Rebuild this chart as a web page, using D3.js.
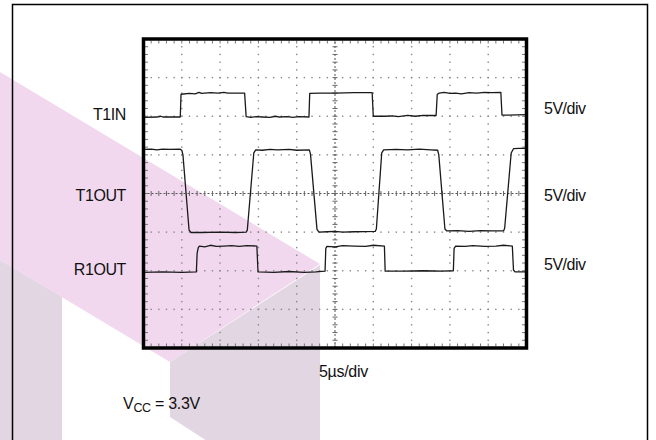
<!DOCTYPE html>
<html>
<head>
<meta charset="utf-8">
<script src="https://cdn.jsdelivr.net/npm/d3@7"></script>
<style>
  body { margin: 0; background: #fff; }
  text { font-family: "Liberation Sans", Arial, sans-serif; fill: #111; }
</style>
</head>
<body>
<div id="chart"></div>
<script>
// traces, [time in div, level in div from screen centre]
const t1in = [
  [0.00, 1.97], [0.35, 1.98], [0.45, 2.00], [0.52, 1.98], [0.96, 1.98],
  [0.98, 2.57], [1.20, 2.59], [1.35, 2.58], [1.45, 2.62], [1.52, 2.59], [1.75, 2.61], [1.95, 2.60], [2.10, 2.62], [2.20, 2.60], [2.64, 2.60],
  [2.68, 1.99], [2.80, 1.97], [2.95, 1.99], [3.10, 1.98], [3.30, 1.97], [3.45, 2.00], [3.55, 1.98], [3.75, 1.99], [3.90, 1.97], [4.05, 1.99], [4.32, 1.98],
  [4.34, 2.59], [4.60, 2.60], [5.00, 2.60], [5.50, 2.61], [5.97, 2.61],
  [6.00, 2.00], [6.30, 2.00], [6.50, 2.01], [6.65, 1.99], [6.90, 2.02], [7.10, 2.00], [7.30, 2.02], [7.64, 2.02],
  [7.67, 2.57], [7.72, 2.60], [7.85, 2.62], [8.00, 2.59], [8.15, 2.60], [8.30, 2.58], [8.50, 2.61], [8.70, 2.60], [8.90, 2.62], [9.10, 2.61], [9.33, 2.62],
  [9.36, 2.03], [9.50, 2.03], [10.00, 2.04]
];
const t1out = [
  [0.00, 1.14], [0.20, 1.15], [0.35, 1.13], [0.50, 1.15], [0.70, 1.14], [0.95, 1.15], [1.00, 1.12],
  [1.03, 1.00], [1.19, -0.95], [1.24, -1.01], [1.50, -1.01], [2.00, -1.00], [2.40, -1.01], [2.68, -1.00],
  [2.71, -0.95], [2.88, 1.05], [2.93, 1.13], [3.10, 1.12], [3.30, 1.14], [3.50, 1.13], [3.80, 1.14], [4.00, 1.12], [4.33, 1.13],
  [4.36, 1.02], [4.53, -0.93], [4.58, -1.00], [4.80, -0.99], [5.00, -0.98], [5.20, -1.00], [5.50, -0.99], [6.05, -0.98],
  [6.08, -0.92], [6.22, 1.05], [6.27, 1.13], [6.60, 1.14], [6.90, 1.13], [7.20, 1.15], [7.50, 1.13], [7.68, 1.12],
  [7.71, 1.00], [7.87, -0.92], [7.92, -0.97], [8.20, -0.96], [8.50, -0.98], [8.80, -0.96], [9.10, -0.97], [9.40, -0.97],
  [9.43, -0.90], [9.60, 1.05], [9.66, 1.16], [9.80, 1.17], [10.00, 1.17]
];
const r1out = [
  [0.00, -2.04], [0.50, -2.03], [1.00, -2.04], [1.38, -2.03],
  [1.40, -1.55], [1.43, -1.40], [1.46, -1.36], [1.60, -1.38], [1.75, -1.34], [1.90, -1.37], [2.10, -1.36], [2.30, -1.35], [2.50, -1.37], [2.70, -1.35], [2.96, -1.36],
  [2.99, -2.03], [3.40, -2.04], [3.80, -2.02], [4.20, -2.04], [4.50, -2.03], [4.74, -2.01],
  [4.76, -1.42], [4.79, -1.37], [5.00, -1.38], [5.20, -1.35], [5.50, -1.36], [5.80, -1.37], [6.00, -1.34], [6.29, -1.36],
  [6.31, -2.01], [6.80, -2.01], [7.30, -2.00], [7.80, -2.01], [8.09, -2.00],
  [8.11, -1.42], [8.15, -1.36], [8.40, -1.37], [8.60, -1.35], [8.90, -1.37], [9.20, -1.36], [9.40, -1.34], [9.63, -1.36],
  [9.66, -1.98], [9.70, -2.03], [10.00, -2.03]
];

const channelNames = ["T1IN", "T1OUT", "R1OUT"];
const channelScales = ["5V/div", "5V/div", "5V/div"];
const timeScale = "5\u00b5s/div";
const hDivs = 10, vDivs = 8;

// label baselines, pixels
const leftLabelY = [120, 201, 275];
const rightLabelY = [114, 201, 270];

var W = 656, H = 440;
var svg = d3.select("#chart").append("svg")
    .attr("width", W)
    .attr("height", H);

svg.append("rect").attr("width", W).attr("height", H).attr("fill", "#fff");

// watermark logo shapes
var wm = svg.append("g");
wm.append("polygon").attr("points", "0,72 320,264 170,362 0,260").attr("fill", "#f2d8ef");
wm.append("polygon").attr("points", "170,362 320,265 320,441 207,441 170,417").attr("fill", "#e2d6e2");
wm.append("polygon").attr("points", "0,260 62,297 62,441 0,441").attr("fill", "#e2d6e2");

// outer border
svg.append("path")
    .attr("d", "M12.5,441V4.5H647.5V441")
    .attr("fill", "none")
    .attr("stroke", "#000")
    .attr("stroke-width", 1.5);

var x = d3.scaleLinear().domain([0, hDivs]).range([143.5, 526.5]);
var y = d3.scaleLinear().domain([-vDivs / 2, vDivs / 2]).range([348, 39]);

var grid = svg.append("g").attr("class", "grid");

// minor dotted grid
var dots = [];
d3.range(1, hDivs).forEach(function (k) {
    if (k === hDivs / 2) return;
    d3.range(1, vDivs * 5).forEach(function (s) { dots.push([k, s / 5 - vDivs / 2]); });
});
d3.range(1, vDivs).forEach(function (j) {
    var v = j - vDivs / 2;
    if (v === 0) return;
    d3.range(1, hDivs * 5).forEach(function (s) { dots.push([s / 5, v]); });
});
grid.selectAll(".dot").data(dots).enter().append("rect")
    .attr("x", function (d) { return x(d[0]) - 0.7; })
    .attr("y", function (d) { return y(d[1]) - 0.7; })
    .attr("width", 1.4)
    .attr("height", 1.4)
    .attr("fill", "#888");

// centre cross lines
grid.append("line")
    .attr("x1", x(0)).attr("x2", x(hDivs)).attr("y1", y(0)).attr("y2", y(0))
    .attr("stroke", "#555").attr("stroke-width", 1).attr("stroke-dasharray", "2,2");
grid.append("line")
    .attr("x1", x(hDivs / 2)).attr("x2", x(hDivs / 2)).attr("y1", y(-vDivs / 2)).attr("y2", y(vDivs / 2))
    .attr("stroke", "#555").attr("stroke-width", 1).attr("stroke-dasharray", "2,2");

grid.selectAll(".htick").data(d3.range(1, hDivs * 5)).enter().append("line")
    .attr("x1", function (s) { return x(s / 5); })
    .attr("x2", function (s) { return x(s / 5); })
    .attr("y1", y(0) - 2.5).attr("y2", y(0) + 2.5)
    .attr("stroke", "#666").attr("stroke-width", 1);
grid.selectAll(".vtick").data(d3.range(1, vDivs * 5)).enter().append("line")
    .attr("x1", x(hDivs / 2) - 2.5).attr("x2", x(hDivs / 2) + 2.5)
    .attr("y1", function (s) { return y(s / 5 - vDivs / 2); })
    .attr("y2", function (s) { return y(s / 5 - vDivs / 2); })
    .attr("stroke", "#666").attr("stroke-width", 1);

// edge ticks inside the frame
var edgeX = d3.range(1, hDivs * 5).map(function (s) { return s / 5; });
var edgeY = d3.range(1, vDivs * 5).map(function (s) { return s / 5 - vDivs / 2; });
grid.selectAll(".et").data(edgeX).enter().append("path")
    .attr("d", function (t) {
        return "M" + x(t) + "," + (y(vDivs / 2) + 1.5) + "v3M" + x(t) + "," + (y(-vDivs / 2) - 1.5) + "v-3";
    })
    .attr("stroke", "#777").attr("stroke-width", 1);
grid.selectAll(".el").data(edgeY).enter().append("path")
    .attr("d", function (v) {
        return "M" + (x(0) + 1.5) + "," + y(v) + "h3M" + (x(hDivs) - 1.5) + "," + y(v) + "h-3";
    })
    .attr("stroke", "#777").attr("stroke-width", 1);

// traces
var line = d3.line()
    .x(function (d) { return x(d[0]); })
    .y(function (d) { return y(d[1]); });

svg.append("g").selectAll("path")
    .data([t1in, t1out, r1out])
    .enter().append("path")
    .attr("d", line)
    .attr("fill", "none")
    .attr("stroke", "#1a1a1a")
    .attr("stroke-width", 1.3)
    .attr("stroke-linejoin", "round");

// frame
svg.append("rect")
    .attr("x", x(0))
    .attr("y", y(vDivs / 2))
    .attr("width", x(hDivs) - x(0))
    .attr("height", y(-vDivs / 2) - y(vDivs / 2))
    .attr("fill", "none")
    .attr("stroke", "#000")
    .attr("stroke-width", 3.5);

// labels
svg.selectAll(".lname").data(channelNames).enter().append("text")
    .attr("x", 126)
    .attr("y", function (d, i) { return leftLabelY[i]; })
    .attr("text-anchor", "end")
    .style("font-size", "16px")
    .style("letter-spacing", "-0.4px")
    .text(function (d) { return d; });

svg.selectAll(".lscale").data(channelScales).enter().append("text")
    .attr("x", 544)
    .attr("y", function (d, i) { return rightLabelY[i]; })
    .style("font-size", "16px")
    .style("letter-spacing", "-0.5px")
    .text(function (d) { return d; });

svg.append("text")
    .attr("x", 319)
    .attr("y", 377)
    .style("font-size", "16px")
    .style("letter-spacing", "-0.3px")
    .text(timeScale);

var vcc = svg.append("text")
    .attr("x", 123)
    .attr("y", 409)
    .style("font-size", "16px")
    .style("letter-spacing", "-0.3px");
vcc.append("tspan").text("V");
vcc.append("tspan").attr("dy", 3).style("font-size", "12.5px").text("CC");
vcc.append("tspan").attr("dy", -3).text(" = 3.3V");
</script>
</body>
</html>
